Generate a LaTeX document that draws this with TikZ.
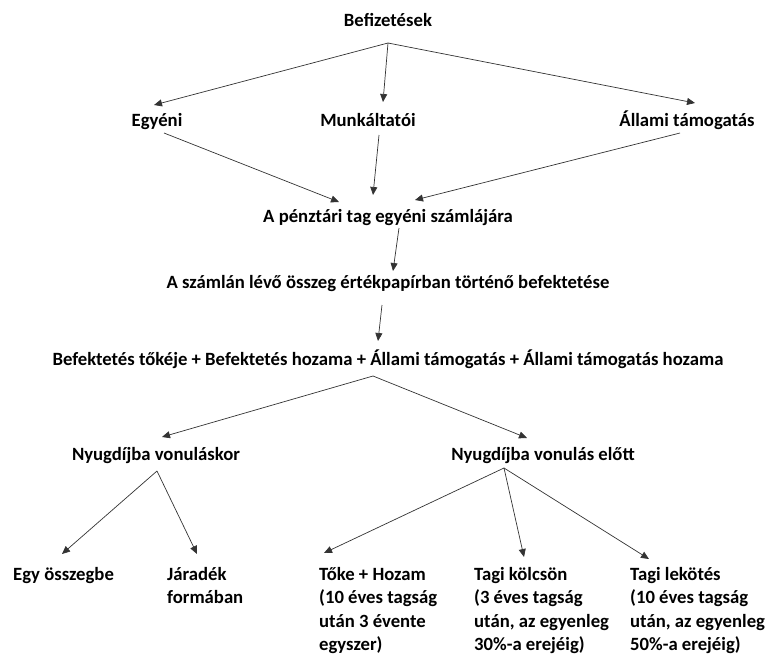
\documentclass[tikz,border=0pt]{standalone}
\usepackage{fontspec}
\setmainfont{Carlito}
\usetikzlibrary{arrows.meta}

\begin{document}
\begin{tikzpicture}[x=1pt,y=-1pt,
  label/.style={font=\fontsize{18.7}{23.5}\selectfont\bfseries, inner sep=0pt, anchor=base},
  block/.style={font=\fontsize{18.7}{23.5}\selectfont\bfseries, inner sep=0pt, anchor=base west},
  link/.style={draw=black!80, line width=0.7pt, -{Triangle[length=8pt,width=7pt]}}]
\useasboundingbox (0,0) rectangle (769,654);

% Text nodes
\node[label] (bef)   at (388,26)  {Befizetések};
\node[label] (egy)   at (157,126) {Egyéni};
\node[label] (munk)  at (368,126) {Munkáltatói};
\node[label] (all)   at (687,126) {Állami támogatás};
\node[label] (tag)   at (388,222) {A pénztári tag egyéni számlájára};
\node[label] (szam)  at (388,288) {A számlán lévő összeg értékpapírban történő befektetése};
\node[label] (sum)   at (388,365) {Befektetés tőkéje + Befektetés hozama + Állami támogatás + Állami támogatás hozama};
\node[label] (nyk)   at (156,460) {Nyugdíjba vonuláskor};
\node[label] (nye)   at (543,460) {Nyugdíjba vonulás előtt};
\node[block] (osz)   at (13,580)  {Egy összegbe};
\node[block] (jar)   at (167,580) {\begin{tabular}[t]{@{}l@{}}Járadék\\formában\end{tabular}};
\node[block] (toke)  at (319,580) {\begin{tabular}[t]{@{}l@{}}Tőke + Hozam\\(10 éves tagság\\után 3 évente\\egyszer)\end{tabular}};
\node[block] (kolcs) at (474,580) {\begin{tabular}[t]{@{}l@{}}Tagi kölcsön\\(3 éves tagság\\után, az egyenleg\\30\%-a erejéig)\end{tabular}};
\node[block] (lek)   at (630,580) {\begin{tabular}[t]{@{}l@{}}Tagi lekötés\\(10 éves tagság\\után, az egyenleg\\50\%-a erejéig)\end{tabular}};

% Connector end points
\coordinate (befOut)  at (388,43);
\coordinate (egyIn)   at (154,105);
\coordinate (munkIn)  at (383,102);
\coordinate (allIn)   at (695,103);
\coordinate (egyOut)  at (164,133);
\coordinate (munkOut) at (379,135);
\coordinate (allOut)  at (680,133);
\coordinate (tagInL)  at (339,202);
\coordinate (tagInM)  at (373,195);
\coordinate (tagInR)  at (415,200);
\coordinate (tagOut)  at (399,228);
\coordinate (szamIn)  at (393,271);
\coordinate (szamOut) at (382,305);
\coordinate (sumIn)   at (378,341);
\coordinate (sumOut)  at (373,376);
\coordinate (nykIn)   at (162,437);
\coordinate (nyeIn)   at (527,438);
\coordinate (nykOut)  at (157,471);
\coordinate (nyeOut)  at (504,468);
\coordinate (oszIn)   at (62,554);
\coordinate (jarIn)   at (197,554);
\coordinate (tokeIn)  at (324,553);
\coordinate (kolcsIn) at (524,557);
\coordinate (lekIn)   at (649,559);

% Connectors
\draw[link] (befOut) -- (egyIn);
\draw[link] (befOut) -- (munkIn);
\draw[link] (befOut) -- (allIn);
\draw[link] (egyOut) -- (tagInL);
\draw[link] (munkOut) -- (tagInM);
\draw[link] (allOut) -- (tagInR);
\draw[link] (tagOut) -- (szamIn);
\draw[link] (szamOut) -- (sumIn);
\draw[link] (sumOut) -- (nykIn);
\draw[link] (sumOut) -- (nyeIn);
\draw[link] (nykOut) -- (oszIn);
\draw[link] (nykOut) -- (jarIn);
\draw[link] (nyeOut) -- (tokeIn);
\draw[link] (nyeOut) -- (kolcsIn);
\draw[link] (nyeOut) -- (lekIn);
\end{tikzpicture}
\end{document}
